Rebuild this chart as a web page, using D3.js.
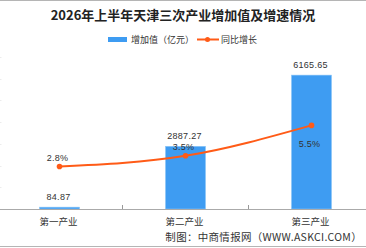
<!DOCTYPE html>
<html>
<head>
<meta charset="utf-8">
<script src="https://cdn.jsdelivr.net/npm/d3@7"></script>
<style>
body { margin: 0; background: #fff; }
svg { display: block; }
</style>
</head>
<body>
<svg width="366" height="248"></svg>
<script>
const svg = d3.select("svg");
const width = +svg.attr("width");
const height = +svg.attr("height");

const categories = ["第一产业", "第二产业", "第三产业"];
const values = [84.87, 2887.27, 6165.65];
const growth = [2.8, 3.5, 5.5];
const valueLabels = ["84.87", "2887.27", "6165.65"];
const growthLabels = ["2.8%", "3.5%", "5.5%"];

const blue = "#3e9cf2";
const orange = "#ff5b17";
const cjk = "'Noto Sans CJK SC', 'Noto Sans', sans-serif";
const num = "'Liberation Sans', Arial, sans-serif";

const baseY = 209;
const topY = 57;

const x = d3.scaleBand()
    .domain(categories)
    .range([-3.5, 374.5])
    .paddingInner(0.6825)
    .paddingOuter(0.34125);

const y = d3.scaleLinear().domain([0, 7000]).range([baseY, topY]);
const y2 = d3.scaleLinear().domain([0, 10]).range([baseY, topY]);

// frame lines
svg.append("line")
    .attr("x1", 0).attr("x2", width)
    .attr("y1", 0.5).attr("y2", 0.5)
    .style("stroke", "#b5b5b5");
svg.append("line")
    .attr("x1", 0).attr("x2", width)
    .attr("y1", height - 1.5).attr("y2", height - 1.5)
    .style("stroke", "#b5b5b5");

// title
svg.append("text")
    .attr("x", width / 2)
    .attr("y", 20)
    .attr("text-anchor", "middle")
    .style("font-family", cjk)
    .style("font-weight", "bold")
    .style("font-size", "13px")
    .style("fill", "#222")
    .text("2026年上半年天津三次产业增加值及增速情况");

// legend
const legend = svg.append("g")
    .style("font-family", cjk)
    .style("font-size", "9px")
    .style("fill", "#333");
legend.append("rect")
    .attr("x", 108).attr("y", 37)
    .attr("width", 19).attr("height", 5)
    .style("fill", blue);
legend.append("text")
    .attr("x", 131).attr("y", 43)
    .text("增加值（亿元）");
legend.append("line")
    .attr("x1", 197).attr("x2", 219)
    .attr("y1", 39.5).attr("y2", 39.5)
    .style("stroke", orange).style("stroke-width", 2);
legend.append("circle")
    .attr("cx", 207.5).attr("cy", 39.5).attr("r", 2.5)
    .style("fill", orange);
legend.append("text")
    .attr("x", 221).attr("y", 43)
    .text("同比增长");

// faint left ticks
svg.append("g")
    .selectAll("line")
    .data(y.ticks(7))
    .join("line")
    .attr("x1", 0).attr("x2", 1.5)
    .attr("y1", d => Math.round(y(d)) + 0.5)
    .attr("y2", d => Math.round(y(d)) + 0.5)
    .style("stroke", "#ececec");

// bars
svg.append("g")
    .selectAll("rect")
    .data(values)
    .join("rect")
    .attr("x", (d, i) => x(categories[i]))
    .attr("y", d => y(d))
    .attr("width", x.bandwidth())
    .attr("height", d => baseY - y(d))
    .style("fill", blue)
    .style("stroke", "#8cc6f7")
    .style("stroke-width", 0.6);

// x axis line and inner ticks
svg.append("line")
    .attr("x1", 0).attr("x2", width)
    .attr("y1", baseY + 0.5).attr("y2", baseY + 0.5)
    .style("stroke", "#aaa");
svg.append("g")
    .selectAll("line")
    .data(categories.slice(0, -1))
    .join("line")
    .attr("x1", d => x(d) + x.bandwidth() / 2 + x.step() / 2)
    .attr("x2", d => x(d) + x.bandwidth() / 2 + x.step() / 2)
    .attr("y1", baseY - 4).attr("y2", baseY)
    .style("stroke", "#999");

// category labels
svg.append("g")
    .selectAll("text")
    .data(categories)
    .join("text")
    .attr("x", d => x(d) + x.bandwidth() / 2 - 1)
    .attr("y", 225)
    .attr("text-anchor", "middle")
    .style("font-family", cjk)
    .style("font-size", "9.5px")
    .style("fill", "#333")
    .text(d => d);

// value labels
svg.append("g")
    .selectAll("text")
    .data(values)
    .join("text")
    .attr("x", (d, i) => x(categories[i]) + x.bandwidth() / 2 - 1)
    .attr("y", d => y(d) - 7)
    .attr("text-anchor", "middle")
    .style("font-family", num)
    .style("font-size", "9px")
    .style("letter-spacing", "0.3px")
    .style("fill", "#333")
    .text((d, i) => valueLabels[i]);

// growth line
const pts = growth.map((d, i) => [x(categories[i]) + x.bandwidth() / 2, y2(d)]);
svg.append("path")
    .attr("d", d3.line().curve(d3.curveMonotoneX)(pts))
    .style("fill", "none")
    .style("stroke", orange)
    .style("stroke-width", 2);
svg.append("g")
    .selectAll("circle")
    .data(pts)
    .join("circle")
    .attr("cx", d => d[0])
    .attr("cy", d => d[1])
    .attr("r", 2.8)
    .style("fill", orange);

// growth labels
const gOffsets = [-5, -6, 22];
svg.append("g")
    .selectAll("text")
    .data(pts)
    .join("text")
    .attr("x", (d, i) => d[0] - 2)
    .attr("y", (d, i) => d[1] + gOffsets[i])
    .attr("text-anchor", "middle")
    .style("font-family", num)
    .style("font-size", "9px")
    .style("letter-spacing", "0.3px")
    .style("fill", "#333")
    .text((d, i) => growthLabels[i]);

// source
svg.append("text")
    .attr("x", 362)
    .attr("y", 241)
    .attr("text-anchor", "end")
    .style("font-family", cjk)
    .style("font-size", "10.5px")
    .style("letter-spacing", "0.3px")
    .style("fill", "#333")
    .text("制图：中商情报网（WWW.ASKCI.COM）");
</script>
</body>
</html>
